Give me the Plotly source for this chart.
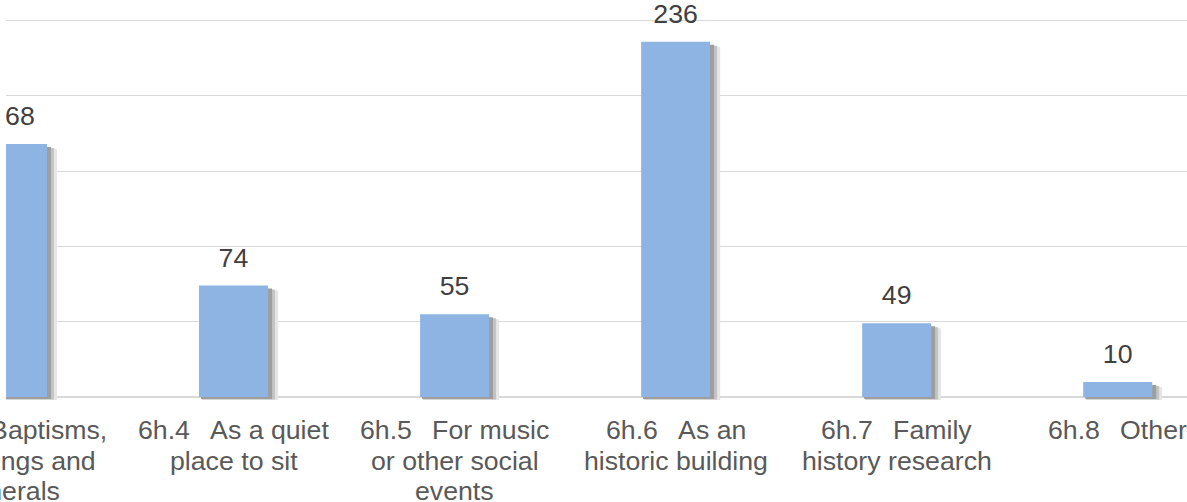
import plotly.graph_objects as go

# ---- data ----
codes = ["6h.3", "6h.4", "6h.5", "6h.6", "6h.7", "6h.8"]
label_line1 = ["Baptisms,", "As a quiet", "For music", "As an", "Family", "Other"]
label_line2 = ["weddings and", "place to sit", "or other social", "historic building", "history research", ""]
label_line3 = ["funerals", "", "events", "", "", ""]
values = [168, 74, 55, 236, 49, 10]
grid_step = 50

# ---- geometry helpers (pixels -> data units) ----
PX_X = 1 / 221.05      # category units per pixel
PX_Y = 1 / 1.5055      # value units per pixel
BAR_W = 69 * PX_X

xpos = list(range(len(codes)))
FONT = "Liberation Sans, Arial, sans-serif"
FS = 26.7
BAR_COLOR = "#8EB4E3"

fig = go.Figure()

# soft drop shadow layers (outer -> inner)
shadow_layers = [
    # (left inset px, right extension px, top inset px, bottom extension px, color)
    (3, 10, 5, 3, "#e6e6e6"),
    (3, 7, 4, 2.5, "#c4c4c4"),
    (2, 4, 3, 2, "#9e9e9e"),
]
for li, re, ti, be, col in shadow_layers:
    fig.add_trace(go.Bar(
        x=xpos,
        y=[v - ti * PX_Y + be * PX_Y for v in values],
        base=[-be * PX_Y] * len(values),
        offset=-BAR_W / 2 + li * PX_X,
        width=BAR_W - li * PX_X + re * PX_X,
        marker=dict(color=col, line=dict(width=0)),
        hoverinfo="skip",
        showlegend=False,
    ))

# main bars
fig.add_trace(go.Bar(
    x=xpos,
    y=values,
    offset=-BAR_W / 2,
    width=BAR_W,
    marker=dict(color=BAR_COLOR, line=dict(width=0)),
    showlegend=False,
))

# value labels: transparent carrier bars, text outside, clipped to plot area
LABEL_PAD = 10 * PX_Y
fig.add_trace(go.Bar(
    x=xpos,
    y=[v + LABEL_PAD for v in values],
    offset=-BAR_W / 2,
    width=BAR_W,
    marker=dict(color="rgba(0,0,0,0)", line=dict(width=0)),
    text=[str(v) for v in values],
    textposition="outside",
    constraintext="none",
    cliponaxis=True,
    textfont=dict(family=FONT, size=FS, color="#404040"),
    hoverinfo="skip",
    showlegend=False,
))

annotations = []
# category labels (one annotation per text line)
LINE_GAP = 30.5
for x, code, l1, l2, l3 in zip(xpos, codes, label_line1, label_line2, label_line3):
    lines = [code + "\u00a0\u00a0\u2009" + l1, l2, l3]
    for j, t in enumerate(lines):
        if not t:
            continue
        annotations.append(dict(
            x=x, y=0, xref="x", yref="y", text=t, showarrow=False,
            yanchor="middle", xanchor="center", yshift=-(33 + LINE_GAP * j),
            font=dict(family=FONT, size=FS, color="#595959"),
        ))

x_min = -(12.5 - 6) * PX_X
x_max = (len(codes) - 1) + (1187 - 1117.7) * PX_X
y_min = -4 * PX_Y
y_max = 397 * PX_Y

fig.update_layout(
    width=1187, height=502,
    margin=dict(l=6, r=0, t=0, b=101, pad=0),
    paper_bgcolor="white", plot_bgcolor="white",
    barmode="overlay",
    annotations=annotations,
    xaxis=dict(range=[x_min, x_max], showticklabels=False, showgrid=False,
               zeroline=False, showline=False, ticks="", fixedrange=True),
    yaxis=dict(range=[y_min, y_max], showticklabels=False, showgrid=True,
               gridcolor="#d9d9d9", gridwidth=1, dtick=grid_step, tick0=0,
               zeroline=True, zerolinecolor="#d9d9d9", zerolinewidth=1.5,
               showline=False, ticks="", fixedrange=True),
    font=dict(family=FONT),
)

fig.write_html("out.html", config={"displayModeBar": False},
               post_script="document.body.style.margin='0';")
